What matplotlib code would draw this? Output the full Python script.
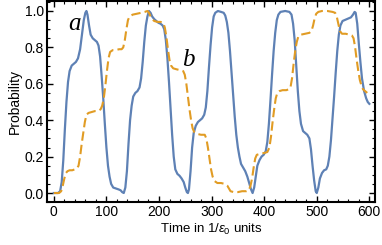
import matplotlib
matplotlib.use("Agg")
import matplotlib.pyplot as plt
from matplotlib.ticker import MultipleLocator

# Curve a (solid blue)
t_a = [0, 8, 12, 15, 18, 21, 24, 27, 30, 34, 38, 42, 46, 50, 54, 57, 60, 62, 64, 67,
       70, 74, 78, 82, 85, 88, 91, 94, 97, 100, 103, 106, 109, 113, 118, 123, 127, 130, 133, 136,
       139, 142, 145, 148, 151, 155, 159, 163, 166, 169, 172, 175, 178, 181, 184, 187, 191, 195, 199, 203,
       207, 210, 213, 216, 219, 222, 225, 228, 231, 235, 239, 243, 247, 250, 253, 255, 257, 260, 263, 266,
       270, 274, 278, 282, 286, 289, 292, 295, 298, 301, 304, 307, 312, 318, 323, 326, 329, 332, 335, 338,
       341, 344, 347, 350, 353, 356, 360, 364, 368, 372, 375, 378, 381, 384, 387, 391, 395, 399, 403, 406,
       409, 412, 415, 418, 421, 424, 427, 431, 440, 448, 452, 455, 458, 461, 464, 467, 470, 474, 478, 482,
       486, 489, 492, 495, 498, 500, 503, 506, 510, 514, 518, 521, 524, 527, 530, 533, 536, 539, 542, 545,
       549, 553, 557, 561, 565, 569, 572, 574, 577, 580, 583, 586, 590, 594, 597, 600]
p_a = [0.0, 0.0, 0.01, 0.06, 0.18, 0.35, 0.50, 0.61, 0.67, 0.70, 0.71, 0.72, 0.74, 0.79, 0.88, 0.95, 0.99, 1.0, 0.98, 0.92,
       0.87, 0.85, 0.84, 0.83, 0.81, 0.75, 0.64, 0.52, 0.38, 0.25, 0.15, 0.09, 0.05, 0.03, 0.025, 0.02, 0.015, 0.005, 0.0, 0.03,
       0.12, 0.27, 0.40, 0.48, 0.53, 0.55, 0.56, 0.58, 0.63, 0.72, 0.83, 0.92, 0.97, 1.0, 0.99, 0.97, 0.955, 0.945, 0.935, 0.93,
       0.92, 0.90, 0.84, 0.74, 0.61, 0.46, 0.32, 0.20, 0.13, 0.105, 0.095, 0.08, 0.06, 0.03, 0.005, 0.0, 0.02, 0.12, 0.25, 0.33,
       0.37, 0.39, 0.40, 0.41, 0.43, 0.47, 0.56, 0.69, 0.81, 0.91, 0.97, 0.99, 1.0, 0.995, 0.99, 0.975, 0.94, 0.88, 0.78, 0.66,
       0.54, 0.42, 0.32, 0.25, 0.20, 0.16, 0.14, 0.12, 0.09, 0.05, 0.02, 0.0, 0.03, 0.09, 0.15, 0.18, 0.20, 0.21, 0.23, 0.28,
       0.38, 0.51, 0.65, 0.78, 0.88, 0.95, 0.98, 0.995, 1.0, 0.995, 0.98, 0.93, 0.84, 0.70, 0.56, 0.45, 0.38, 0.34, 0.33, 0.32,
       0.30, 0.24, 0.15, 0.07, 0.01, 0.0, 0.03, 0.08, 0.11, 0.125, 0.13, 0.15, 0.20, 0.29, 0.41, 0.53, 0.66, 0.78, 0.87, 0.92,
       0.945, 0.95, 0.955, 0.96, 0.965, 0.98, 0.995, 0.99, 0.93, 0.82, 0.72, 0.63, 0.56, 0.52, 0.50, 0.49]

# Curve b (dashed orange)
t_b = [0, 10, 14, 17, 20, 23, 26, 30, 35, 40, 44, 47, 50, 53, 56, 59, 62, 66, 72, 78,
       84, 89, 92, 95, 98, 101, 104, 107, 112, 118, 124, 129, 132, 135, 138, 141, 144, 150, 158, 166,
       173, 178, 181, 184, 187, 191, 197, 203, 208, 211, 214, 217, 220, 223, 227, 233, 240, 246, 249, 252,
       255, 258, 261, 264, 267, 272, 280, 287, 290, 293, 296, 299, 302, 306, 311, 318, 325, 330, 333, 336,
       342, 350, 358, 366, 371, 374, 377, 380, 383, 386, 392, 400, 406, 410, 413, 416, 419, 422, 425, 429,
       435, 442, 447, 450, 453, 456, 459, 462, 465, 470, 478, 486, 490, 493, 496, 499, 503, 510, 520, 530,
       535, 538, 541, 544, 548, 555, 562, 567, 570, 573, 576, 579, 582, 585, 588, 592, 596]
p_b = [0.0, 0.0, 0.01, 0.04, 0.08, 0.11, 0.12, 0.125, 0.125, 0.13, 0.135, 0.15, 0.2, 0.27, 0.33, 0.39, 0.43, 0.44, 0.445, 0.45,
       0.45, 0.46, 0.48, 0.52, 0.59, 0.67, 0.74, 0.775, 0.785, 0.785, 0.79, 0.79, 0.80, 0.84, 0.90, 0.95, 0.97, 0.98, 0.985, 0.99,
       0.995, 1.0, 0.99, 0.97, 0.955, 0.945, 0.94, 0.94, 0.935, 0.91, 0.86, 0.79, 0.73, 0.70, 0.685, 0.68, 0.675, 0.67, 0.65, 0.60,
       0.53, 0.46, 0.40, 0.355, 0.335, 0.325, 0.32, 0.32, 0.30, 0.25, 0.19, 0.13, 0.09, 0.065, 0.055, 0.055, 0.05, 0.04, 0.025, 0.01,
       0.005, 0.005, 0.01, 0.01, 0.015, 0.04, 0.08, 0.14, 0.19, 0.21, 0.215, 0.22, 0.225, 0.25, 0.31, 0.39, 0.46, 0.52, 0.55, 0.56,
       0.565, 0.565, 0.57, 0.58, 0.63, 0.71, 0.78, 0.83, 0.86, 0.87, 0.875, 0.88, 0.89, 0.92, 0.96, 0.985, 0.995, 1.0, 1.0, 0.995,
       0.99, 0.97, 0.93, 0.89, 0.875, 0.875, 0.87, 0.865, 0.85, 0.80, 0.73, 0.67, 0.62, 0.59, 0.57, 0.56, 0.55]

plt.rcParams['font.family'] = ['Liberation Sans', 'DejaVu Sans']
plt.rcParams['mathtext.fontset'] = 'custom'
plt.rcParams['mathtext.rm'] = 'Liberation Sans'
plt.rcParams['mathtext.it'] = 'Liberation Sans:italic'

fig = plt.figure(figsize=(3.82, 2.45), dpi=100)
ax = fig.add_axes([0.123, 0.175, 0.859, 0.821])

ax.plot(t_a, p_a, color='#5e81b5', lw=1.6, solid_joinstyle='round')
ax.plot(t_b, p_b, color='#e19c24', lw=1.5, dashes=(4.5, 2))

ax.text(40, 0.93, 'a', fontsize=18, style='italic', family='Liberation Serif', ha='center', va='center')
ax.text(256, 0.73, 'b', fontsize=18, style='italic', family='Liberation Serif', ha='center', va='center')

ax.set_xlim(-13, 611)
ax.set_ylim(-0.05, 1.055)
ax.xaxis.set_major_locator(MultipleLocator(100))
ax.xaxis.set_minor_locator(MultipleLocator(20))
ax.yaxis.set_major_locator(MultipleLocator(0.2))
ax.yaxis.set_minor_locator(MultipleLocator(0.05))
ax.yaxis.set_major_formatter(plt.FuncFormatter(lambda v, pos: f'{v:.1f}'))
ax.tick_params(which='both', direction='in', top=True, right=True, labelsize=10, pad=2)
ax.tick_params(which='major', length=4, width=1)
ax.tick_params(which='minor', length=2, width=0.8)
for s in ax.spines.values():
    s.set_linewidth(1.5)

ax.set_xlabel('Time in 1/$\\varepsilon_0$ units', fontsize=9.5, labelpad=2)
ax.set_ylabel('Probability', fontsize=10, labelpad=2)

fig.savefig('out.png', dpi=100)
